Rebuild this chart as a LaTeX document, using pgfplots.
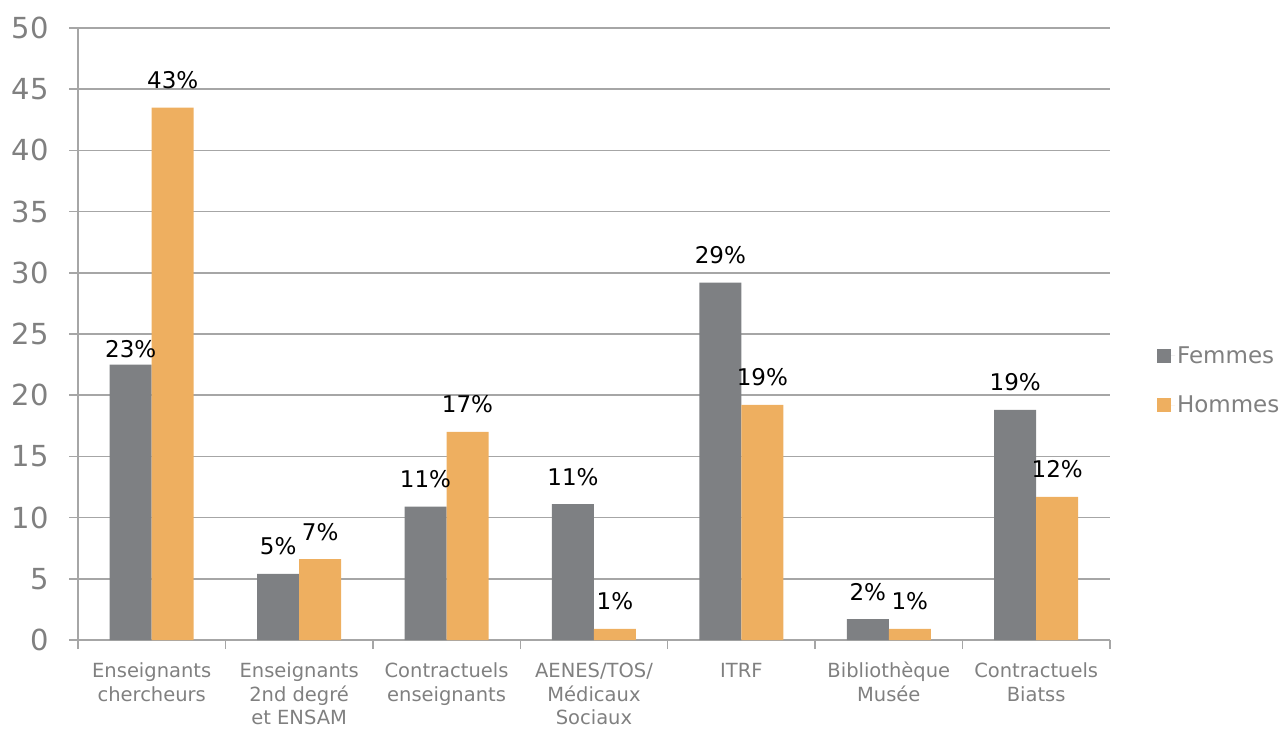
\documentclass[border=0pt]{standalone}
\usepackage{fontspec}
\setmainfont{DejaVu Sans}
\usepackage{pgfplots}
\pgfplotsset{compat=1.18}
\definecolor{fem}{HTML}{7E8083}
\definecolor{hom}{HTML}{EEAF60}
\definecolor{axgray}{HTML}{A6A6A6}
\definecolor{txtgray}{HTML}{808080}
\begin{document}
\begin{tikzpicture}[x=1pt,y=1pt]
\useasboundingbox (0,0) rectangle (1280,729);
\begin{axis}[
  at={(78pt,89pt)}, anchor=south west,
  scale only axis, width=1032pt, height=612pt,
  ybar=0pt, bar width=42pt,
  xmin=-0.5, xmax=6.5, ymin=0, ymax=50,
  axis x line=bottom, axis y line=left, axis line style={-, axgray, line width=1.5pt},
  ytick={0,5,...,50}, ymajorgrids, grid style={axgray, line width=1.5pt},
  tick align=outside, major tick length=9pt, minor tick length=9pt,
  y tick style={axgray, line width=1.5pt},
  xtick={0,...,6}, major x tick style={draw=none},
  minor xtick={-0.5,0.5,...,6.5}, minor x tick style={axgray, line width=1.5pt},
  xticklabels={{\strut Enseignants\\chercheurs},{\strut Enseignants\\2nd degré\\et ENSAM},{\strut Contractuels\\enseignants},{\strut AENES/TOS/\\Médicaux\\Sociaux},{\strut ITRF},{\strut Bibliothèque\\Musée},{\strut Contractuels\\Biatss}},
  xticklabel style={font=\fontsize{19.5}{23.5}\selectfont, text=txtgray, align=center, yshift=-9pt},
  yticklabel style={font=\fontsize{29}{29}\selectfont, text=txtgray, xshift=-17pt},
  /pgf/number format/assume math mode=true,
  nodes near coords, point meta=explicit symbolic,
  nodes near coords style={font=\fontsize{23}{23}\selectfont, text=black, anchor=base, inner sep=0pt, yshift=19pt},
  legend style={at={(1.0455,0.424)}, anchor=west, draw=none, fill=none,
    font=\fontsize{23}{23}\selectfont, text=txtgray, row sep=27pt, inner sep=0pt},
  legend cell align=left,
  legend image code/.code={\fill[#1] (0pt,-7pt) rectangle (14pt,7pt); \path (0pt,0pt) -- (18pt,0pt);},
]
\addplot[fill=fem, draw=none] coordinates {
  (0,22.5) [\raisebox{-12pt}{23\%}]
  (1,5.4) [5\%]
  (2,10.9) [11\%]
  (3,11.1) [11\%]
  (4,29.2) [29\%]
  (5,1.7) [2\%]
  (6,18.8) [19\%]
};
\addplot[fill=hom, draw=none] coordinates {
  (0,43.5) [43\%]
  (1,6.6) [7\%]
  (2,17.0) [17\%]
  (3,0.9) [1\%]
  (4,19.2) [19\%]
  (5,0.9) [1\%]
  (6,11.7) [12\%]
};
\legend{Femmes,Hommes}
\end{axis}
\end{tikzpicture}
\end{document}
